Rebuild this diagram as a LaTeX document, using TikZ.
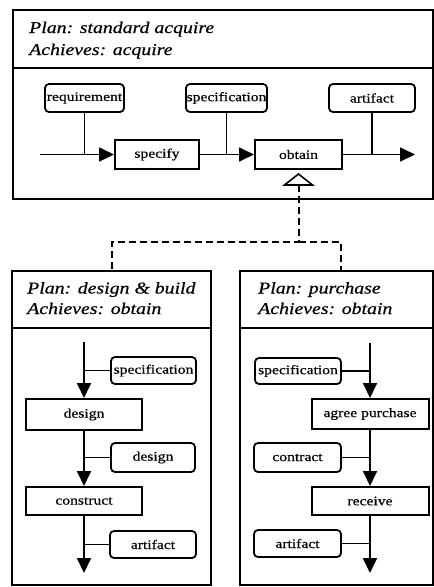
\documentclass[tikz,border=0pt]{standalone}
\usepackage{fontspec}
\setmainfont{Liberation Serif}[FakeStretch=1.2, FakeBold=0.5]
\usetikzlibrary{arrows.meta}
\begin{document}
\begin{tikzpicture}[x=1pt,y=-1pt,
  frame/.style={draw, line width=1.8pt, rectangle, inner sep=0pt},
  title/.style={anchor=base west, inner sep=0pt, font=\fontsize{16.5}{20}\selectfont\itshape},
  task/.style={draw, line width=2pt, rectangle, inner sep=0pt, font=\fontsize{13}{15}\selectfont},
  item/.style={draw, line width=1.8pt, rounded corners=4pt, inner sep=0pt, font=\fontsize{13}{15}\selectfont},
  flow/.style={line width=1.8pt, -{Triangle[length=15pt,width=14pt]}},
  link/.style={line width=1.5pt},
  rule/.style={line width=1.8pt},
  plug/.style={line width=2pt, dash pattern=on 7pt off 4pt}
]
\useasboundingbox (0,0) rectangle (434,587);

% ---------- plan: standard acquire ----------
\node[frame, minimum width=420pt, minimum height=189pt] (acq) at (223,104.5) {};
\draw[rule] (acq.west |- 0,68) -- (acq.east |- 0,68);
\node[title] (acqplan) at (29,33) {Plan: standard acquire};
\node[title] (acqgoal) at (29,55) {Achieves: acquire};

\node[item, minimum width=79pt, minimum height=28pt] (req) at (84.5,98) {requirement};
\node[item, minimum width=81pt, minimum height=28pt] (spec) at (226.5,98) {specification};
\node[item, minimum width=86pt, minimum height=28pt] (art) at (372,98) {artifact};
\node[task, minimum width=84pt, minimum height=29pt] (specify) at (157,154.5) {specify};
\node[task, minimum width=87pt, minimum height=29pt] (obtain) at (298.5,154.5) {obtain};
\coordinate (in) at (40,154.5);
\coordinate (out) at (415,154.5);

\draw[flow] (in) -- (specify);
\draw[flow] (specify) -- (obtain);
\draw[flow] (obtain) -- (out);
\draw[link] (req) -- (req |- specify);
\draw[link] (spec) -- (spec |- specify);
\draw[link] (art) -- (art |- obtain);

% specialisation triangle under "obtain"
\draw[line width=1.6pt, fill=white] ([yshift=-4pt]obtain.south) -- ++(14,11) -- ++(-28,0) -- cycle;
\coordinate (tribase) at ([yshift=-15pt]obtain.south);

% ---------- plan: design & build ----------
\node[frame, minimum width=199pt, minimum height=314pt] (dbuild) at (111.5,428) {};
\draw[rule] (dbuild.west |- 0,328) -- (dbuild.east |- 0,328);
\node[title] (dplan) at (27,293.5) {Plan: design \& build};
\node[title] (dgoal) at (27,314) {Achieves: obtain};

\coordinate (dtop) at (84,342);
\coordinate (dend) at (84,573);
\node[task, minimum width=116pt, minimum height=31pt] (design) at (84,414.5) {design};
\node[task, minimum width=116pt, minimum height=28pt] (construct) at (84,501) {construct};
\node[item, minimum width=85pt, minimum height=27pt] (dspec) at (153.5,370.5) {specification};
\node[item, minimum width=84pt, minimum height=29pt] (ddes) at (153,457.5) {design};
\node[item, minimum width=86pt, minimum height=27pt] (dart) at (153,544.5) {artifact};

\draw[flow] (dtop) -- (design);
\draw[flow] (design) -- (construct);
\draw[flow] (construct) -- (dend);
\draw[link] (dspec) -- (dspec -| dtop);
\draw[link] (ddes) -- (ddes -| dtop);
\draw[link] (dart) -- (dart -| dtop);

% ---------- plan: purchase ----------
\node[frame, minimum width=193pt, minimum height=314pt] (purch) at (336.5,428) {};
\draw[rule] (purch.west |- 0,328) -- (purch.east |- 0,328);
\node[title] (pplan) at (258,293.5) {Plan: purchase};
\node[title] (pgoal) at (258,314) {Achieves: obtain};

\coordinate (ptop) at (370,343);
\coordinate (pend) at (370,573);
\node[task, minimum width=117pt, minimum height=30pt] (agree) at (370,414) {agree purchase};
\node[task, minimum width=117pt, minimum height=28pt] (receive) at (370,501) {receive};
\node[item, minimum width=86pt, minimum height=26pt] (pspec) at (298,371) {specification};
\node[item, minimum width=87pt, minimum height=29pt] (pcon) at (297.5,457.5) {contract};
\node[item, minimum width=87pt, minimum height=27pt] (part) at (297.5,543.5) {artifact};

\draw[flow] (ptop) -- (agree);
\draw[flow] (agree) -- (receive);
\draw[flow] (receive) -- (pend);
\draw[link] (pspec) -- (pspec -| ptop);
\draw[link] (pcon) -- (pcon -| ptop);
\draw[link] (part) -- (part -| ptop);

% ---------- refinement links ----------
\coordinate (fork) at (tribase |- 0,242);
\draw[plug] (tribase) -- (fork) -| (dbuild.north);
\draw[plug] (fork) -| ([xshift=4.5pt]purch.north);
\end{tikzpicture}
\end{document}
